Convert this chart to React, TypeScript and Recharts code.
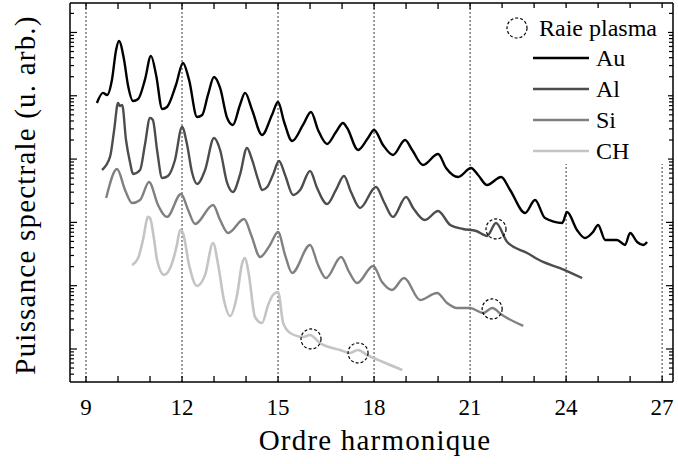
import React from "react";
import { ComposedChart, Line, Scatter, XAxis, YAxis, ReferenceLine, Legend } from "recharts";

// ordre harmonique / puissance spectrale (u. arb.)
const auOrder = [9.34, 9.53, 9.66, 9.81, 9.94, 10.03, 10.19, 10.31, 10.47, 10.63, 10.84, 11.03, 11.19, 11.38, 11.53, 11.81, 12.03, 12.22, 12.47, 12.63, 12.81, 13.0, 13.19, 13.41, 13.59, 13.81, 13.97, 14.19, 14.5, 14.81, 15.0, 15.19, 15.44, 15.78, 16.03, 16.25, 16.53, 16.81, 17.03, 17.16, 17.5, 17.81, 18.0, 18.28, 18.59, 18.97, 19.19, 19.53, 20.0, 20.25, 20.63, 21.03, 21.25, 21.53, 21.97, 22.25, 22.72, 23.03, 23.34, 23.88, 24.03, 24.34, 24.59, 24.84, 25.0, 25.22, 25.59, 25.84, 26.0, 26.22, 26.41, 26.53];
const auPower = [7690, 11100, 10300, 17800, 52900, 73400, 36800, 14800, 8280, 8900, 17800, 42600, 21300, 6180, 6650, 14800, 33000, 17800, 4620, 4970, 10300, 19800, 13300, 4460, 3460, 7160, 11100, 5970, 2400, 4970, 7980, 3850, 1930, 3460, 5550, 2880, 1730, 2680, 3720, 3100, 1390, 2150, 2880, 1670, 1160, 2000, 1390, 807, 1200, 723, 521, 723, 561, 390, 521, 325, 141, 226, 117, 97.9, 146, 75.9, 56.7, 70.5, 91.0, 52.7, 52.7, 44.0, 68.0, 49.0, 44.0, 49.0];

const alOrder = [9.5, 9.75, 9.88, 10.0, 10.06, 10.13, 10.25, 10.38, 10.47, 10.69, 10.84, 11.0, 11.09, 11.22, 11.38, 11.56, 11.78, 12.0, 12.16, 12.31, 12.47, 12.72, 13.0, 13.19, 13.41, 13.59, 13.81, 14.03, 14.19, 14.38, 14.5, 14.66, 14.84, 15.03, 15.22, 15.47, 15.69, 16.0, 16.22, 16.53, 16.81, 17.06, 17.28, 17.56, 18.06, 18.31, 18.59, 19.0, 19.22, 19.59, 20.0, 20.38, 20.78, 21.19, 21.53, 21.81, 22.16, 22.78, 23.28, 23.81, 24.5];
const alPower = [673, 1080, 2880, 7690, 6900, 7160, 2000, 867, 582, 673, 1670, 4460, 4150, 1390, 503, 541, 968, 3210, 1670, 625, 404, 673, 2150, 1390, 419, 302, 561, 1500, 968, 468, 325, 362, 561, 933, 561, 271, 325, 649, 349, 195, 325, 541, 302, 169, 362, 210, 122, 252, 169, 109, 151, 91.0, 78.7, 73.1, 61.0, 97.9, 49.0, 32.9, 23.7, 19.0, 13.2];

const siOrder = [9.63, 9.97, 10.22, 10.44, 10.69, 10.97, 11.25, 11.53, 11.97, 12.19, 12.41, 12.97, 13.19, 13.44, 13.94, 14.16, 14.44, 14.75, 15.0, 15.22, 15.44, 16.0, 16.25, 16.5, 16.97, 17.22, 17.47, 17.97, 18.25, 18.56, 18.94, 19.44, 19.97, 20.28, 20.59, 21.0, 21.41, 21.69, 22.0, 22.66];
const siPower = [243, 698, 325, 202, 226, 435, 188, 122, 281, 157, 94.4, 188, 109, 68.0, 113, 63.2, 28.4, 44.0, 70.5, 30.5, 15.9, 44.0, 21.2, 13.2, 28.4, 16.5, 11.0, 20.5, 11.4, 8.55, 13.2, 5.94, 7.67, 5.33, 4.44, 4.44, 3.71, 4.44, 3.44, 2.31];

const chOrder = [10.44, 10.63, 10.78, 10.94, 11.0, 11.13, 11.22, 11.44, 11.69, 11.84, 11.94, 12.03, 12.22, 12.47, 12.72, 12.97, 13.13, 13.31, 13.5, 13.72, 13.88, 13.97, 14.09, 14.28, 14.5, 14.69, 14.84, 15.0, 15.16, 15.38, 15.78, 16.0, 16.31, 16.94, 17.25, 17.5, 17.78, 18.28, 18.88];
const chPower = [21.2, 27.4, 52.7, 122, 117, 52.7, 25.5, 14.8, 22.8, 44.0, 75.9, 68.0, 21.2, 9.89, 14.8, 47.3, 21.2, 5.94, 3.32, 7.13, 22.8, 27.4, 14.8, 3.2, 2.58, 4.96, 7.13, 7.95, 2.58, 1.79, 1.55, 1.66, 1.24, 0.964, 0.865, 0.964, 0.804, 0.623, 0.466];

// raies plasma (cercles pointillés)
const plasmaOrder = [16.03, 17.5, 21.81, 21.69];
const plasmaPower = [1.44, 0.865, 78.7, 4.29];

const xTicks = [9, 10, 11, 12, 13, 14, 15, 16, 17, 18, 19, 20, 21, 22, 23, 24, 25, 26, 27];
const xLabels = [9, 12, 15, 18, 21, 24, 27];
const yDecades = [1, 10, 100, 1000, 10000, 100000];
const minorSteps = [2, 3, 4, 5, 6, 7, 8, 9];

const X_DOMAIN = [8.5, 27.34];
const Y_DOMAIN = [0.301, 292000];

const series = [
  { name: "Au", order: auOrder, power: auPower, color: "#000000", width: 2.4 },
  { name: "Al", order: alOrder, power: alPower, color: "#4d4d4d", width: 2.4 },
  { name: "Si", order: siOrder, power: siPower, color: "#808080", width: 2.4 },
  { name: "CH", order: chOrder, power: chPower, color: "#c4c4c4", width: 2.6 },
];

const toRows = (order: number[], power: number[]) => order.map((h, i) => ({ h, v: power[i] }));

const yMinor = [0.1, ...yDecades]
  .flatMap((d) => minorSteps.map((m) => m * d))
  .filter((v) => v >= Y_DOMAIN[0] && v <= Y_DOMAIN[1]);
const yTicks = [...yDecades, ...yMinor].sort((a, b) => a - b);

const FONT = "'Liberation Serif', 'Times New Roman', serif";
const textStyle = { fontFamily: FONT };
const PLOT = { left: 70, right: 673, top: 3, bottom: 382 };
const INK = { stroke: "#000", strokeWidth: 1.5 };

const isMajor = (v: number) => yDecades.includes(v);

// même projection que le graphe, pour les graduations du cadre dessinées dans la surcouche
const xPx = (h: number) =>
  PLOT.left + ((h - X_DOMAIN[0]) / (X_DOMAIN[1] - X_DOMAIN[0])) * (PLOT.right - PLOT.left);
const yPx = (v: number) =>
  PLOT.bottom -
  ((Math.log10(v) - Math.log10(Y_DOMAIN[0])) / (Math.log10(Y_DOMAIN[1]) - Math.log10(Y_DOMAIN[0]))) *
    (PLOT.bottom - PLOT.top);

const XTick = (props: any) => {
  const { x, payload } = props;
  return (
    <g>
      {xLabels.includes(payload.value) && (
        <text x={x} y={415} textAnchor="middle" fontSize={23} style={textStyle} fill="#000">
          {payload.value}
        </text>
      )}
    </g>
  );
};

const YTick = (props: any) => {
  const { y, payload } = props;
  const len = isMajor(payload.value) ? 7 : 4;
  return <line x1={PLOT.left} x2={PLOT.left + len} y1={y} y2={y} stroke="#000" strokeWidth={1.2} />;
};

const PlasmaCircle = (props: any) => {
  const { cx, cy } = props;
  return <circle cx={cx} cy={cy} r={10} fill="none" stroke="#000" strokeWidth={1.2} strokeDasharray="3 2" />;
};

// légende + cadre haut/droit et graduations intérieures
const renderLegend = () => (
  <svg width={678} height={464} style={{ display: "block" }}>
    <line x1={PLOT.left} x2={PLOT.right} y1={PLOT.top} y2={PLOT.top} {...INK} />
    <line x1={PLOT.right} x2={PLOT.right} y1={PLOT.top} y2={PLOT.bottom} {...INK} />
    {xTicks.map((h) => (
      <g key={h}>
        <line x1={xPx(h)} x2={xPx(h)} y1={PLOT.top} y2={PLOT.top + 6} stroke="#000" strokeWidth={1.3} />
        <line x1={xPx(h)} x2={xPx(h)} y1={PLOT.bottom} y2={PLOT.bottom - 6} stroke="#000" strokeWidth={1.3} />
      </g>
    ))}
    {yTicks.map((v) => (
      <line
        key={v}
        x1={PLOT.right}
        x2={PLOT.right - (isMajor(v) ? 7 : 4)}
        y1={yPx(v)}
        y2={yPx(v)}
        stroke="#000"
        strokeWidth={1.2}
      />
    ))}

    <g transform="translate(500,8)">
      <rect x={0} y={0} width={168} height={156} fill="#fff" />
      <circle cx={17} cy={20} r={10} fill="none" stroke="#000" strokeWidth={1.2} strokeDasharray="3 2" />
      <text x={39} y={28} fontSize={24} style={textStyle} fill="#000">
        Raie plasma
      </text>
      {series.map((s, i) => (
        <g key={s.name}>
          <line x1={33} x2={89} y1={50 + i * 31} y2={50 + i * 31} stroke={s.color} strokeWidth={s.width} />
          <text x={96} y={58 + i * 31} fontSize={24} style={textStyle} fill="#000">
            {s.name}
          </text>
        </g>
      ))}
    </g>
  </svg>
);

const xTitle = () => (
  <text x={375} y={450} textAnchor="middle" fontSize={29} letterSpacing={1.2} style={textStyle} fill="#000">
    Ordre harmonique
  </text>
);

const yTitle = () => (
  <text
    x={0}
    y={0}
    transform="translate(35,195) rotate(-90)"
    textAnchor="middle"
    fontSize={29}
    letterSpacing={1.2}
    style={textStyle}
    fill="#000"
  >
    Puissance spectrale (u. arb.)
  </text>
);

const App: React.FC = () => {
  const plasma = toRows(plasmaOrder, plasmaPower);

  return (
    <div style={{ position: "absolute", left: 0, top: 0, width: 678, height: 464, background: "#fff" }}>
      <ComposedChart width={678} height={464} margin={{ top: 3, right: 5, bottom: 3, left: 0 }}>
        {[9, 12, 15, 18, 21].map((x) => (
          <ReferenceLine key={x} x={x} stroke="#000" strokeWidth={0.8} strokeDasharray="2 2" />
        ))}
        {[24, 27].map((x) => (
          <ReferenceLine
            key={x}
            segment={[
              { x, y: 867 },
              { x, y: Y_DOMAIN[0] },
            ]}
            stroke="#000"
            strokeWidth={0.8}
            strokeDasharray="2 2"
          />
        ))}

        <XAxis
          dataKey="h"
          type="number"
          domain={X_DOMAIN}
          allowDataOverflow
          ticks={xTicks}
          interval={0}
          tick={XTick}
          tickLine={false}
          axisLine={INK}
          height={79}
          label={xTitle}
        />
        <YAxis
          scale="log"
          type="number"
          domain={Y_DOMAIN}
          allowDataOverflow
          ticks={yTicks}
          interval={0}
          tick={YTick}
          tickLine={false}
          axisLine={INK}
          width={70}
          label={yTitle}
        />

        {series.map((s) => (
          <Line
            key={s.name}
            data={toRows(s.order, s.power)}
            dataKey="v"
            name={s.name}
            type="monotone"
            stroke={s.color}
            strokeWidth={s.width}
            dot={false}
            isAnimationActive={false}
          />
        ))}
        <Scatter data={plasma} dataKey="v" shape={PlasmaCircle} isAnimationActive={false} />

        <Legend
          layout="horizontal"
          verticalAlign="middle"
          align="center"
          content={renderLegend}
          wrapperStyle={{ position: "absolute", left: 0, top: 0, width: 678, height: 464, pointerEvents: "none" }}
        />
      </ComposedChart>
    </div>
  );
};

export default App;
